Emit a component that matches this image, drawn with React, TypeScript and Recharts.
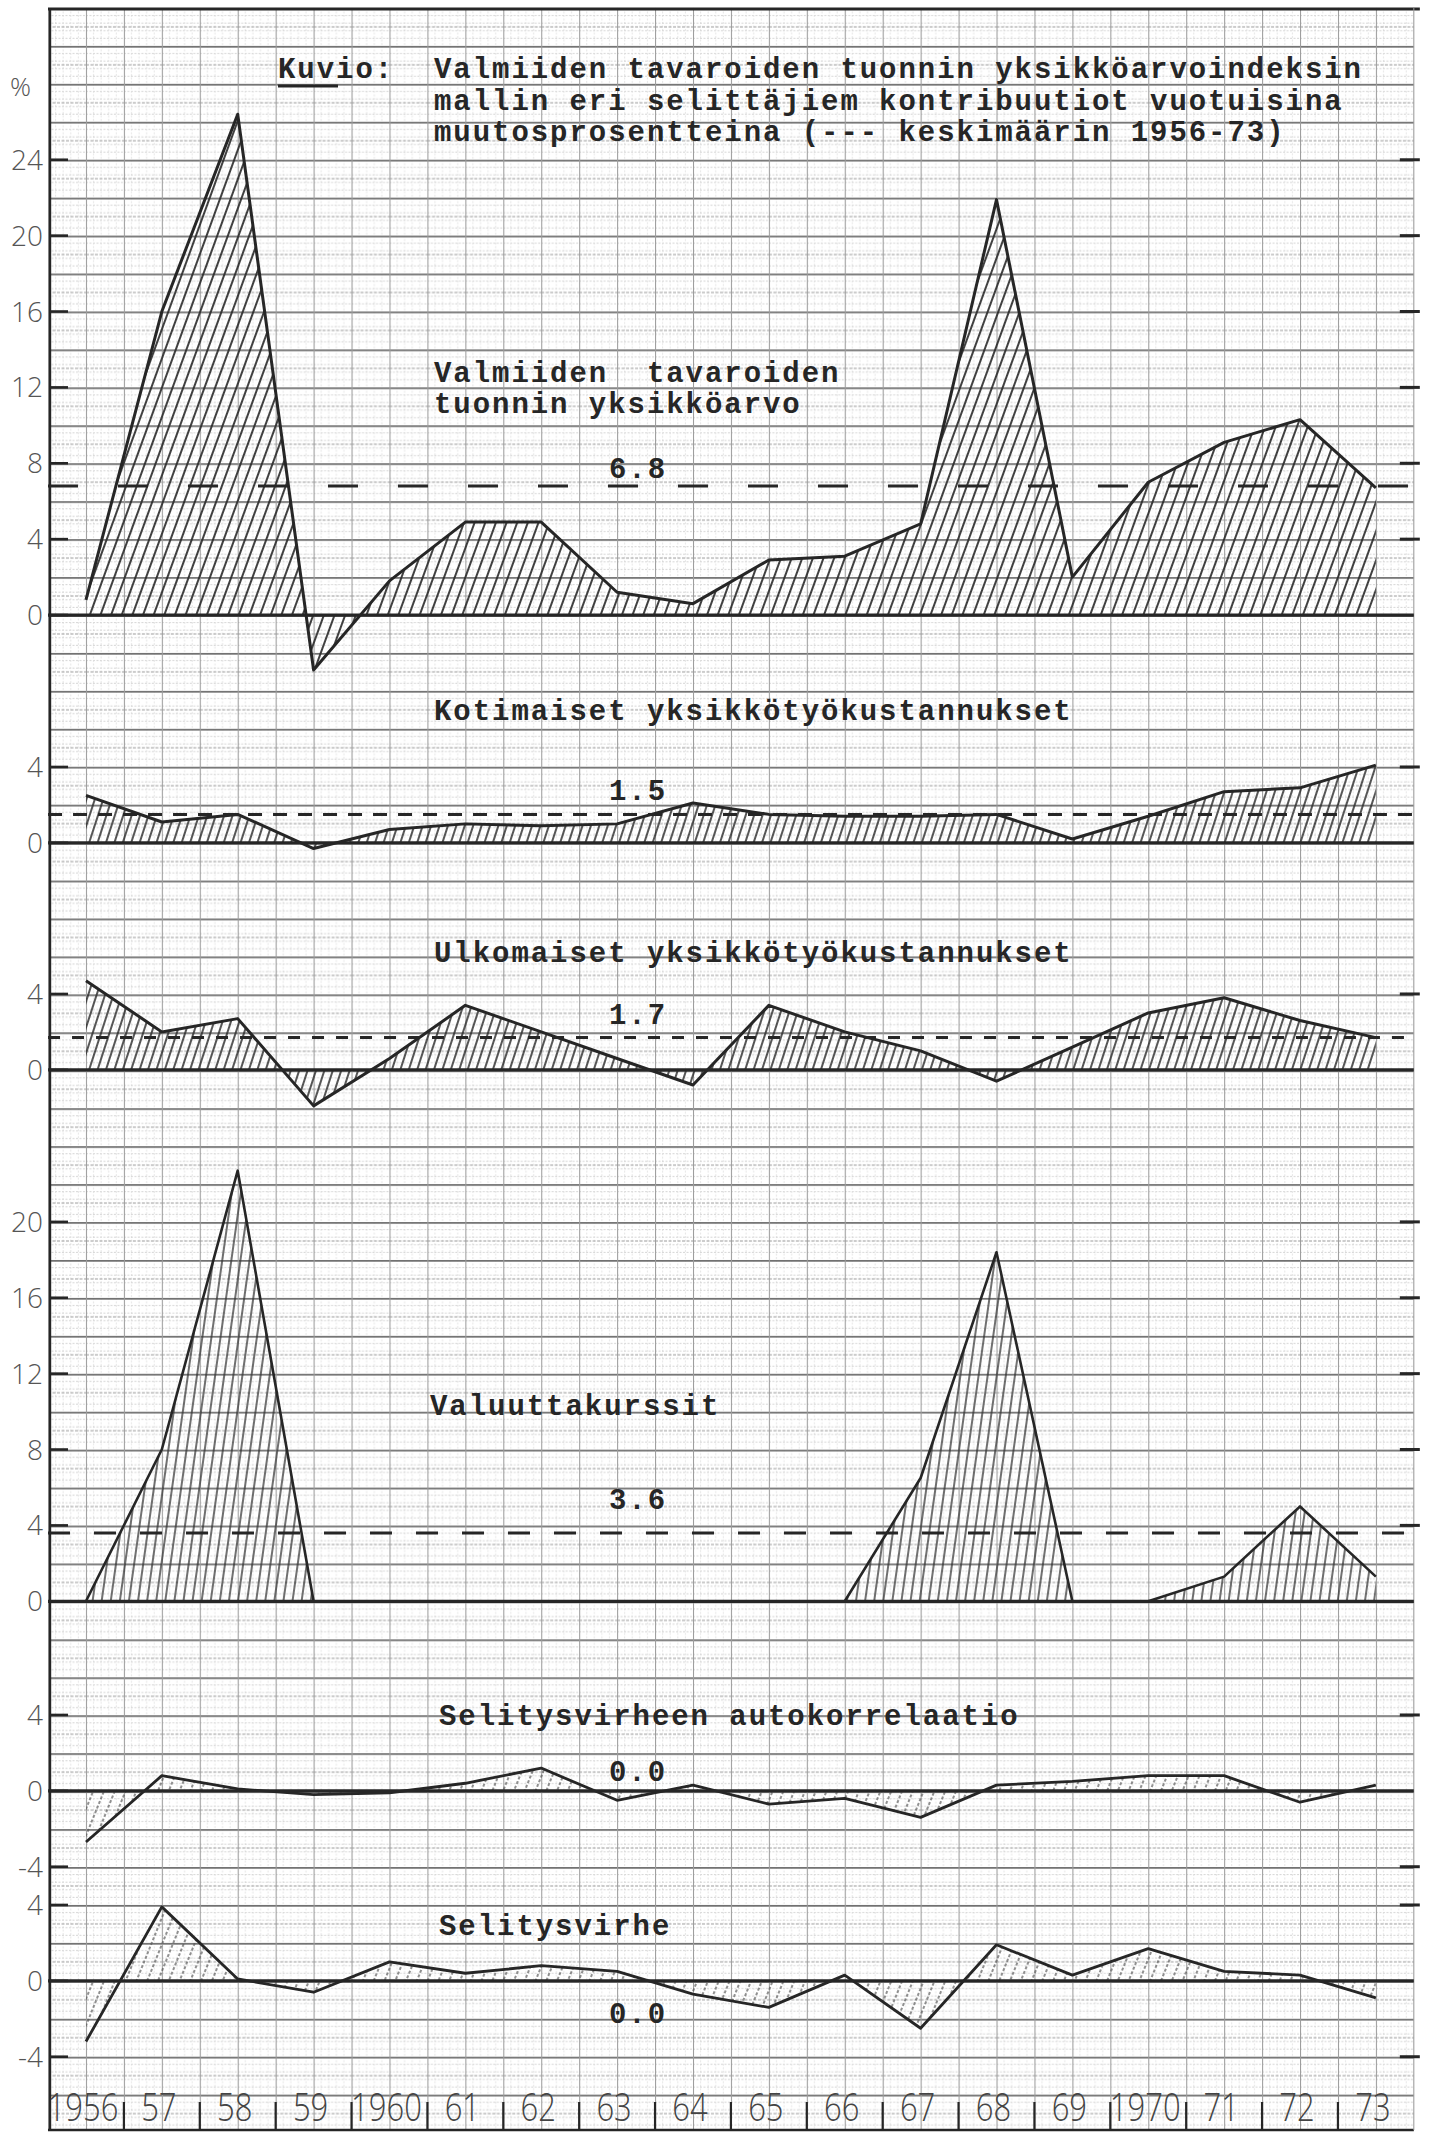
import React from 'react';
import { AreaChart, Area, XAxis, YAxis, ReferenceLine } from 'recharts';

// ---------------- data ----------------
const years = [1956, 1957, 1958, 1959, 1960, 1961, 1962, 1963, 1964, 1965, 1966, 1967, 1968, 1969, 1970, 1971, 1972, 1973];
const yearLabels = ['1956', '57', '58', '59', '1960', '61', '62', '63', '64', '65', '66', '67', '68', '69', '1970', '71', '72', '73'];

const importUnitValue = [0.8, 16.0, 26.4, -2.9, 1.8, 4.9, 4.9, 1.2, 0.6, 2.9, 3.1, 4.8, 21.9, 2.0, 7.0, 9.1, 10.3, 6.7];
const domesticLabourCost = [2.5, 1.1, 1.5, -0.3, 0.7, 1.0, 0.9, 1.0, 2.1, 1.5, 1.4, 1.4, 1.5, 0.2, 1.4, 2.7, 2.9, 4.1];
const foreignLabourCost = [4.7, 2.0, 2.7, -1.9, 0.6, 3.4, 2.0, 0.6, -0.8, 3.4, 2.0, 1.0, -0.6, 1.2, 3.0, 3.8, 2.6, 1.7];
const exchangeRates = [0, 8.0, 22.7, 0, 0, 0, 0, 0, 0, 0, 0, 6.5, 18.4, 0, 0, 1.3, 5.0, 1.3];
const residualAutocorr = [-2.7, 0.8, 0.1, -0.2, -0.1, 0.4, 1.2, -0.5, 0.3, -0.7, -0.4, -1.4, 0.3, 0.5, 0.8, 0.8, -0.6, 0.3];
const residual = [-3.2, 3.9, 0.1, -0.6, 1.0, 0.4, 0.8, 0.5, -0.7, -1.4, 0.3, -2.5, 1.9, 0.3, 1.7, 0.5, 0.3, -0.9];

const means = [6.8, 1.5, 1.7, 3.6, 0.0, 0.0];
const meanLabels = ['6.8', '1.5', '1.7', '3.6', '0.0', '0.0'];

const ticksP1 = [0, 4, 8, 12, 16, 20, 24];
const ticksP2 = [0, 4];
const ticksP3 = [0, 4];
const ticksP4 = [0, 4, 8, 12, 16, 20];
const ticksP5 = [-4, 0, 4];
const ticksP6 = [-4, 0, 4];

const titleLines = [
  'Valmiiden tavaroiden tuonnin yksikköarvoindeksin',
  'mallin eri selittäjiem kontribuutiot vuotuisina',
  'muutosprosentteina (--- keskimäärin 1956-73)',
];
const panelTitles = [
  ['Valmiiden  tavaroiden', 'tuonnin yksikköarvo'],
  ['Kotimaiset yksikkötyökustannukset'],
  ['Ulkomaiset yksikkötyökustannukset'],
  ['Valuuttakurssit'],
  ['Selitysvirheen autokorrelaatio'],
  ['Selitysvirhe'],
];

const rows = years.map((year, i) => ({
  year,
  p1: importUnitValue[i],
  p2: domesticLabourCost[i],
  p3: foreignLabourCost[i],
  p4: exchangeRates[i],
  p5: residualAutocorr[i],
  p6: residual[i],
}));
const separatorTicks = years.slice(0, -1).map((y) => y + 0.5);

// ---------------- layout ----------------
const PAGE_W = 1434;
const PAGE_H = 2132;
const CELL = 37.94; // 1 cm of the graph paper
const UNIT = CELL / 2; // px per percentage point
const GRID_TOP = 7.96;
const PLOT_LEFT = 48;
const PLOT_RIGHT = PLOT_LEFT + 36 * CELL;
const BOTTOM = 2130;
const X_DOMAIN: [number, number] = [1955.5, 1973.5];

const MONO = '"Liberation Mono", "DejaVu Sans Mono", monospace';
const SANS = '"Open Sans", "DejaVu Sans", sans-serif';
const INK = '#262626';
const MONO_SIZE = 29;
const MONO_SPACING = 1.95; // typewriter pitch ~19.4 px

type PanelCfg = {
  key: string;
  zeroRow: number;
  hi: number;
  lo?: number;
  ticks: number[];
  mean: number;
  meanLabel: string;
  meanDash?: string;
  meanDy: number;
  hatch: string;
  stroke: number;
  withXAxis?: boolean;
  titles: string[];
  titleX: number;
  titleY: number[];
};

const panels: PanelCfg[] = [
  { key: 'p1', zeroRow: 16, hi: 32, lo: -4, ticks: ticksP1, mean: means[0], meanLabel: meanLabels[0], meanDash: '30 40', meanDy: -8, hatch: 'hatchA', stroke: 3, titles: panelTitles[0], titleX: 434, titleY: [382, 413] },
  { key: 'p2', zeroRow: 22, hi: 5, lo: -2, ticks: ticksP2, mean: means[1], meanLabel: meanLabels[1], meanDash: '14 11', meanDy: -14, hatch: 'hatchB', stroke: 3, titles: panelTitles[1], titleX: 434, titleY: [720] },
  { key: 'p3', zeroRow: 28, hi: 5, lo: -3, ticks: ticksP3, mean: means[2], meanLabel: meanLabels[2], meanDash: '12 12', meanDy: -14, hatch: 'hatchB', stroke: 3, titles: panelTitles[2], titleX: 434, titleY: [962] },
  { key: 'p4', zeroRow: 42, hi: 24, lo: -2, ticks: ticksP4, mean: means[3], meanLabel: meanLabels[3], meanDash: '22 24', meanDy: -24, hatch: 'hatchC', stroke: 2.6, titles: panelTitles[3], titleX: 430, titleY: [1415] },
  { key: 'p5', zeroRow: 47, hi: 5, lo: -5, ticks: ticksP5, mean: means[4], meanLabel: meanLabels[4], meanDy: -10, hatch: 'hatchD', stroke: 2.8, titles: panelTitles[4], titleX: 439, titleY: [1725] },
  { key: 'p6', zeroRow: 52, hi: 5, ticks: ticksP6, mean: means[5], meanLabel: meanLabels[5], meanDy: 42, hatch: 'hatchD', stroke: 2.8, withXAxis: true, titles: panelTitles[5], titleX: 439, titleY: [1935] },
];

// ---------------- ticks ----------------
const LeftTick = (props: any) => {
  const { x, y, payload } = props;
  return (
    <g>
      <line x1={x + 1} x2={x + 20} y1={y} y2={y} stroke={INK} strokeWidth={2.6} />
      <text x={x - 5} y={y} dy="0.36em" textAnchor="end" fontFamily={SANS} fontWeight={300} fontSize={28} fill="#555">
        {payload.value}
      </text>
    </g>
  );
};

const RightTick = (props: any) => {
  const { x, y, payload } = props;
  if (payload.value === 0) return <g />;
  return <line x1={x - 14} x2={x + 6} y1={y} y2={y} stroke={INK} strokeWidth={3} />;
};

const YearTick = (props: any) => {
  const { x, y, payload } = props;
  const idx = years.indexOf(payload.value);
  const label = yearLabels[idx] ?? String(payload.value);
  return (
    <g transform={`translate(${x - 3},${y - 9}) scale(1,1.25)`}>
      <text x={0} y={0} textAnchor="middle" fontFamily={SANS} fontWeight={300} fontSize={31} fill="#444">
        {label}
      </text>
    </g>
  );
};

const SeparatorTick = (props: any) => {
  const { x, y } = props;
  return <line x1={x} x2={x} y1={y - 1} y2={y - 29} stroke={INK} strokeWidth={2.2} />;
};

// ---------------- panel ----------------
function Panel({ cfg }: { cfg: PanelCfg }) {
  const zero = GRID_TOP + cfg.zeroRow * CELL;
  const top = zero - cfg.hi * UNIT;
  const lo = cfg.lo !== undefined ? cfg.lo : -(BOTTOM - zero) / UNIT;
  const plotHeight = (cfg.hi - lo) * UNIT;
  const height = cfg.withXAxis ? PAGE_H - top : plotHeight;
  const meanLabel = (p: any) => {
    const vb = p.viewBox || {};
    return (
      <text x={(vb.x || 0) + (vb.width || 0) * 0.432} y={(vb.y || 0) + cfg.meanDy} textAnchor="middle"
        fontFamily={MONO} fontSize={MONO_SIZE} letterSpacing={MONO_SPACING} fontWeight="bold" fill={INK}>
        {cfg.meanLabel}
      </text>
    );
  };
  return (
    <div style={{ position: 'absolute', left: 0, top, width: PAGE_W, height }}>
      <AreaChart width={PAGE_W} height={height} data={rows}
        margin={{ top: 0, right: 0, bottom: cfg.withXAxis ? height - plotHeight - 2 : 0, left: 0 }}>
        <XAxis dataKey="year" type="number" domain={X_DOMAIN} hide={!cfg.withXAxis} height={cfg.withXAxis ? 1 : undefined}
          ticks={years} interval={0} tick={YearTick} tickLine={false} axisLine={false} tickSize={0} tickMargin={0} />
        {cfg.withXAxis && (
          <XAxis xAxisId="sep" dataKey="year" type="number" domain={X_DOMAIN} height={1}
            ticks={separatorTicks} interval={0} tick={SeparatorTick} tickLine={false} axisLine={false} tickSize={0} tickMargin={0} />
        )}
        <YAxis yAxisId="l" type="number" domain={[lo, cfg.hi]} width={PLOT_LEFT} ticks={cfg.ticks} interval={0}
          tick={LeftTick} tickLine={false} axisLine={false} tickSize={0} tickMargin={0} allowDataOverflow />
        <YAxis yAxisId="r" orientation="right" type="number" domain={[lo, cfg.hi]} width={PAGE_W - PLOT_RIGHT}
          ticks={cfg.ticks} interval={0} tick={RightTick} tickLine={false} axisLine={false} tickSize={0} tickMargin={0} allowDataOverflow />
        <Area yAxisId="l" type="linear" dataKey={cfg.key} stroke={INK} strokeWidth={cfg.stroke} strokeLinejoin="round"
          fill={`url(#${cfg.hatch})`} fillOpacity={1} dot={false} activeDot={false} isAnimationActive={false} />
        <ReferenceLine yAxisId="l" y={0} stroke={INK} strokeWidth={3.2} />
        {cfg.meanDash ? (
          <ReferenceLine yAxisId="l" y={cfg.mean} stroke={INK} strokeWidth={3} strokeDasharray={cfg.meanDash} label={meanLabel} />
        ) : (
          <ReferenceLine yAxisId="l" y={cfg.mean} stroke="none" label={meanLabel} />
        )}
      </AreaChart>
    </div>
  );
}

// ---------------- page ----------------
export default function App() {
  return (
    <div style={{ position: 'absolute', left: 0, top: 0, width: PAGE_W, height: PAGE_H, background: '#fff', overflow: 'hidden' }}>
      <svg width={PAGE_W} height={PAGE_H} style={{ position: 'absolute', left: 0, top: 0 }}>
        <defs>
          <pattern id="paper" patternUnits="userSpaceOnUse" x={PLOT_LEFT} y={GRID_TOP} width={CELL} height={CELL}>
            {[1, 2, 3, 4].map((i) => (
              <g key={i}>
                <line x1={0} x2={CELL} y1={(i * CELL) / 5} y2={(i * CELL) / 5} stroke="#cfcfcf" strokeWidth={0.9} strokeDasharray="2 1.5" />
                <line y1={0} y2={CELL} x1={(i * CELL) / 5} x2={(i * CELL) / 5} stroke="#dedede" strokeWidth={0.8} strokeDasharray="2 1.5" />
              </g>
            ))}
            <line x1={0} x2={CELL} y1={CELL / 2} y2={CELL / 2} stroke="#9a9a9a" strokeWidth={1.2} strokeDasharray="3 1.5" />
            <line x1={0} x2={CELL} y1={0.8} y2={0.8} stroke="#707070" strokeWidth={1.8} />
            <line y1={0} y2={CELL} x1={0.5} x2={0.5} stroke="#9c9c9c" strokeWidth={1.1} />
          </pattern>
          <pattern id="hatchA" patternUnits="userSpaceOnUse" width={10} height={10} patternTransform="rotate(20)">
            <line x1={2} x2={2} y1={0} y2={10} stroke="#2b2b2b" strokeWidth={1.8} />
          </pattern>
          <pattern id="hatchB" patternUnits="userSpaceOnUse" width={8} height={8} patternTransform="rotate(18)">
            <line x1={2} x2={2} y1={0} y2={8} stroke="#2b2b2b" strokeWidth={1.6} />
          </pattern>
          <pattern id="hatchC" patternUnits="userSpaceOnUse" width={9} height={9} patternTransform="rotate(8)">
            <line x1={2} x2={2} y1={0} y2={9} stroke="#333" strokeWidth={1.4} />
          </pattern>
          <pattern id="hatchD" patternUnits="userSpaceOnUse" width={10} height={10} patternTransform="rotate(22)">
            <line x1={2} x2={2} y1={0} y2={10} stroke="#555" strokeWidth={1.3} strokeDasharray="3 2" />
          </pattern>
        </defs>
        <rect x={PLOT_LEFT} y={GRID_TOP} width={PLOT_RIGHT - PLOT_LEFT} height={BOTTOM - GRID_TOP} fill="url(#paper)" />
        <line x1={PLOT_LEFT} x2={PLOT_RIGHT + 6} y1={9} y2={9} stroke={INK} strokeWidth={3} />
        <line x1={PLOT_LEFT} x2={PLOT_RIGHT} y1={BOTTOM} y2={BOTTOM} stroke={INK} strokeWidth={2.6} />
        <line x1={50} x2={50} y1={8} y2={BOTTOM + 1} stroke={INK} strokeWidth={2.4} />
        <line x1={PLOT_RIGHT} x2={PLOT_RIGHT} y1={8} y2={BOTTOM} stroke="#999" strokeWidth={1} />
      </svg>

      {panels.map((p) => (
        <Panel key={p.key} cfg={p} />
      ))}

      <svg width={PAGE_W} height={PAGE_H} style={{ position: 'absolute', left: 0, top: 0, pointerEvents: 'none' }}>
        <text x={10} y={96} fontFamily={SANS} fontWeight={300} fontSize={26} fill="#555">%</text>
        <text x={278} y={78} fontFamily={MONO} fontWeight="bold" fontSize={MONO_SIZE} letterSpacing={MONO_SPACING} fill={INK}>Kuvio:</text>
        <line x1={278} x2={338} y1={86} y2={86} stroke={INK} strokeWidth={3} />
        {titleLines.map((t, i) => (
          <text key={i} x={434} y={78 + i * 31.5} fontFamily={MONO} fontWeight="bold" fontSize={MONO_SIZE}
            letterSpacing={MONO_SPACING} fill={INK} style={{ whiteSpace: 'pre' }}>
            {t}
          </text>
        ))}
        {panels.map((p) =>
          p.titles.map((t, i) => (
            <text key={p.key + i} x={p.titleX} y={p.titleY[i]} fontFamily={MONO} fontWeight="bold" fontSize={MONO_SIZE}
              letterSpacing={MONO_SPACING} fill={INK} style={{ whiteSpace: 'pre' }}>
              {t}
            </text>
          ))
        )}
      </svg>
    </div>
  );
}
